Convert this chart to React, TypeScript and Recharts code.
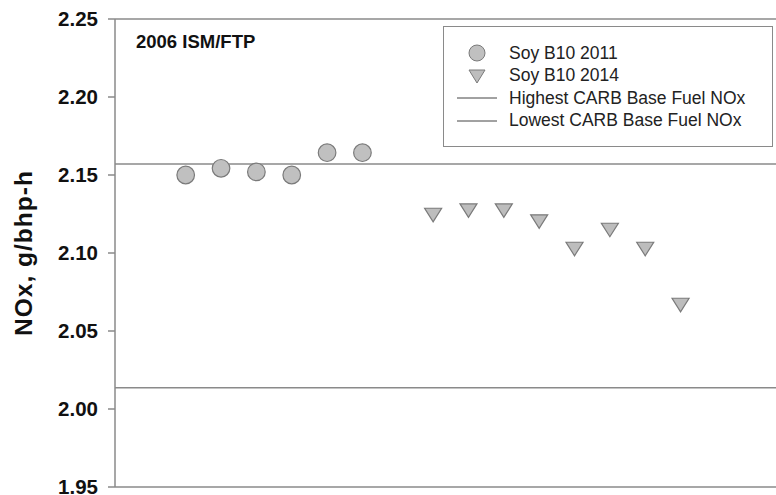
import { ReferenceLine, Scatter, ScatterChart, XAxis, YAxis } from "recharts";

// run index on the x axis, NOx in g/bhp-h
const soy2011X = [2, 3, 4, 5, 6, 7];
const soy2011Y = [2.15, 2.1543, 2.152, 2.15, 2.1643, 2.1643];
const soy2014X = [9, 10, 11, 12, 13, 14, 15, 16];
const soy2014Y = [2.1258, 2.1286, 2.1286, 2.1216, 2.104, 2.1162, 2.104, 2.0681];
const highestBase = 2.157;
const lowestBase = 2.0136;
const yTicks = [1.95, 2.0, 2.05, 2.1, 2.15, 2.2, 2.25];

const GRAY = "#8a8a8a";
const FONT = "'Liberation Sans', Arial, sans-serif";

const soy2011 = soy2011X.map((x, i) => ({ x, y: soy2011Y[i] }));
const soy2014 = soy2014X.map((x, i) => ({ x, y: soy2014Y[i] }));

function DownTriangle(props: any) {
  const { cx, cy } = props;
  const h = 13.5;
  const w = 17;
  const top = cy - h / 3;
  const apex = cy + (2 * h) / 3;
  return (
    <path
      d={`M${cx - w / 2},${top}L${cx + w / 2},${top}L${cx},${apex}Z`}
      fill="#bdbdbd"
      stroke="#7a7a7a"
      strokeWidth={1.2}
    />
  );
}

function Dot(props: any) {
  const { cx, cy } = props;
  return <circle cx={cx} cy={cy} r={8.8} fill="#c0c0c0" stroke="#7a7a7a" strokeWidth={1.2} />;
}

function LegendBox() {
  const row = { display: "flex", alignItems: "center", height: 22.5 } as const;
  const icon = { width: 65, display: "flex", justifyContent: "center" } as const;
  return (
    <div
      style={{
        position: "absolute",
        left: 443,
        top: 26,
        border: "1px solid #8a8a8a",
        width: 330,
        height: 121,
        boxSizing: "border-box",
        padding: "15px 0 0 0",
        fontFamily: FONT,
        fontSize: 17.5,
        color: "#222",
        background: "#fff",
      }}
    >
      <div style={row}>
        <div style={icon}>
          <svg width={20} height={20}>
            <circle cx={10} cy={10} r={8} fill="#c0c0c0" stroke="#7a7a7a" />
          </svg>
        </div>
        <span>Soy B10 2011</span>
      </div>
      <div style={row}>
        <div style={icon}>
          <svg width={20} height={18}>
            <path d="M2,3L18,3L10,16Z" fill="#bdbdbd" stroke="#7a7a7a" />
          </svg>
        </div>
        <span>Soy B10 2014</span>
      </div>
      <div style={row}>
        <div style={icon}>
          <svg width={42} height={4}>
            <line x1={1} x2={41} y1={2} y2={2} stroke="#444" />
          </svg>
        </div>
        <span>Highest CARB Base Fuel NOx</span>
      </div>
      <div style={row}>
        <div style={icon}>
          <svg width={42} height={4}>
            <line x1={1} x2={41} y1={2} y2={2} stroke="#444" />
          </svg>
        </div>
        <span>Lowest CARB Base Fuel NOx</span>
      </div>
    </div>
  );
}

export default function App() {
  return (
    <div style={{ position: "fixed", left: 0, top: 0, width: 776, height: 495, background: "#fff" }}>
      <ScatterChart width={776} height={495} margin={{ top: 19, right: 0, bottom: 8, left: 0 }}>
        <XAxis type="number" dataKey="x" domain={[0, 18.7]} hide />
        <YAxis
          type="number"
          dataKey="y"
          domain={[1.95, 2.25]}
          ticks={yTicks}
          width={115}
          interval={0}
          tickFormatter={(v) => v.toFixed(2)}
          tick={{ fontSize: 20.5, fontWeight: 700, fill: "#111", fontFamily: FONT }}
          tickLine={{ stroke: GRAY, strokeWidth: 1.5 }}
          tickSize={7}
          tickMargin={10}
          axisLine={{ stroke: GRAY, strokeWidth: 1.5 }}
          label={{
            value: "NOx, g/bhp-h",
            angle: -90,
            position: "insideLeft",
            dx: 18,
            style: {
              fontSize: 24.5,
              fontWeight: 700,
              letterSpacing: 1,
              fill: "#111",
              fontFamily: FONT,
              textAnchor: "middle",
            },
          }}
        />
        <ReferenceLine y={2.25} stroke={GRAY} strokeWidth={1.5} />
        <ReferenceLine y={1.95} stroke={GRAY} strokeWidth={1.5} />
        <ReferenceLine y={highestBase} stroke={GRAY} strokeWidth={1.5} />
        <ReferenceLine y={lowestBase} stroke={GRAY} strokeWidth={1.5} />
        <Scatter name="Soy B10 2011" data={soy2011} shape={Dot} isAnimationActive={false} />
        <Scatter name="Soy B10 2014" data={soy2014} shape={DownTriangle} isAnimationActive={false} />
      </ScatterChart>
      <LegendBox />
      <div
        style={{
          position: "absolute",
          left: 136,
          top: 31,
          fontFamily: FONT,
          fontSize: 18.5,
          fontWeight: 700,
          color: "#111",
        }}
      >
        2006 ISM/FTP
      </div>
    </div>
  );
}
